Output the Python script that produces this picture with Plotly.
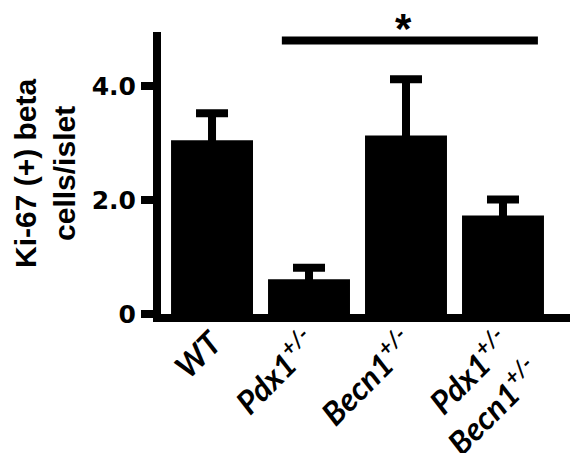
import plotly.graph_objects as go

# ---- data ----
categories = ["WT", "Pdx1+/-", "Becn1+/-", "Pdx1+/- Becn1+/-"]
tick_labels = [
    "WT",
    "Pdx1<sup>+/-</sup>",
    "Becn1<sup>+/-</sup>",
    "Pdx1<sup>+/-</sup><br>Becn1<sup>+/-</sup>",
]
means = [3.05, 0.61, 3.13, 1.73]
sem = [0.47, 0.20, 0.99, 0.28]
y_ticks = [0, 2, 4]
y_tick_text = ["0", "2.0", "4.0"]
y_title = "Ki-67 (+) beta<br>cells/islet"
# significance bracket: from Pdx1 to the double mutant
sig_from, sig_to, sig_level, sig_label = 0.72, 3.36, 4.80, "*"

x_pos = list(range(len(categories)))

fig = go.Figure()
fig.add_trace(go.Bar(
    x=x_pos, y=means, width=0.845,
    marker=dict(color="black", line=dict(width=0)),
    error_y=dict(type="data", array=sem, symmetric=True,
                 color="black", thickness=8, width=16),
    showlegend=False,
))

fig.add_shape(type="line", xref="x", yref="y",
              x0=sig_from, x1=sig_to, y0=sig_level, y1=sig_level,
              line=dict(color="black", width=8))
fig.add_annotation(x=(x_pos[1] + x_pos[3]) / 2 - 0.03, y=1.012,
                   xref="x", yref="paper",
                   text=sig_label, showarrow=False, yanchor="middle",
                   font=dict(family="Liberation Sans", size=42, color="black",
                             weight="bold"))
fig.add_annotation(x=0, y=0.5, xref="paper", yref="paper", xshift=-116,
                   text=y_title, showarrow=False, textangle=-90,
                   xanchor="center", yanchor="middle",
                   font=dict(family="Liberation Sans", size=30, color="black",
                             weight="bold"))

# the page body adds an 8px offset, so the figure is 8px smaller
fig.update_layout(
    width=570, height=445,
    margin=dict(l=153, r=1, t=24, b=139, autoexpand=False),
    paper_bgcolor="white", plot_bgcolor="white",
    bargap=0.15,
    xaxis=dict(
        range=[-0.526, 3.763], automargin=False,
        tickvals=x_pos, ticktext=tick_labels, tickangle=-45,
        ticks="", showline=True, linecolor="black", linewidth=8,
        showgrid=False, zeroline=False, ticklabelstandoff=-10,
        tickfont=dict(family="Lato", size=32, color="black",
                      weight="bold", style="italic"),
    ),
    yaxis=dict(
        range=[0, 4.947], automargin=False,
        tickvals=y_ticks, ticktext=y_tick_text,
        ticks="outside", ticklen=12, tickwidth=8, tickcolor="black",
        showline=True, linecolor="black", linewidth=8,
        showgrid=False, zeroline=False,
        tickfont=dict(family="DejaVu Sans", size=25, color="black",
                      weight="bold"),
    ),
)

fig.write_html("out.html")
